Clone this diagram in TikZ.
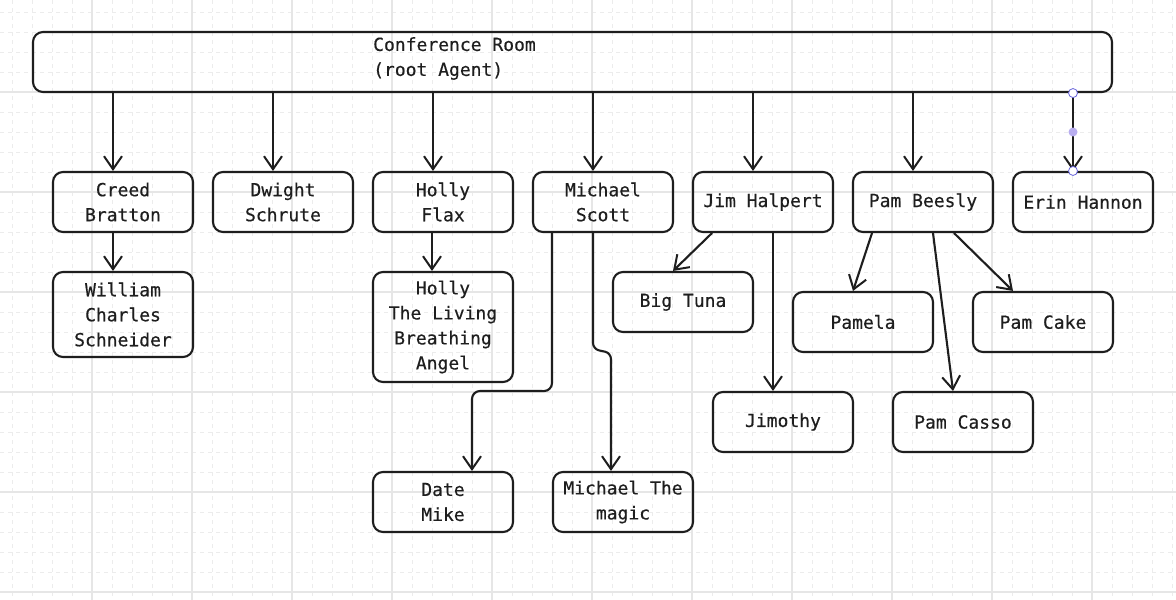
\documentclass[tikz,border=0pt]{standalone}
\usepackage{fontspec}
\newfontfamily\handfont[FakeBold=0.4]{DejaVu Sans Mono}
\usetikzlibrary{arrows.meta,calc}
\definecolor{ink}{HTML}{1E1E1E}
\definecolor{gridmajor}{HTML}{E6E6E6}
\definecolor{gridminor}{HTML}{ECECEC}
\definecolor{selstroke}{HTML}{6965DB}
\definecolor{seldot}{HTML}{B9AEF0}
\tikzset{
  box/.style={draw=ink, line width=2.1pt, rounded corners=10pt, minimum width=140pt,
    minimum height=60pt, inner sep=0pt, align=center, text=ink,
    font=\handfont\fontsize{18}{25}\selectfont},
  txt/.style={inner sep=0pt, align=left, text=ink, font=\handfont\fontsize{18}{25}\selectfont},
  link/.style={draw=ink, line width=2.1pt, line cap=round, line join=round,
    -{Straight Barb[length=13pt,width=18pt,line width=2pt]}},
  handle/.style={circle, draw=selstroke, fill=white, line width=0.8pt, minimum size=9pt, inner sep=0pt},
  handledot/.style={circle, fill=seldot, minimum size=9pt, inner sep=0pt}
}
\begin{document}
\begin{tikzpicture}[x=1pt,y=-1pt]
\useasboundingbox (0,0) rectangle (1176,600);
\fill[white] (0,0) rectangle (1176,600);
% grid
\foreach \v in {12,32,...,1172} {
  \draw[gridminor, line width=0.8pt, dash pattern=on 4pt off 4pt] (\v,0) -- (\v,600);
}
\foreach \v in {12,32,...,592} {
  \draw[gridminor, line width=0.8pt, dash pattern=on 4pt off 4pt] (0,\v) -- (1176,\v);
}
\foreach \v in {92,192,...,1092} {
  \draw[gridmajor, line width=1.1pt] (\v,0) -- (\v,600);
}
\foreach \v in {92,192,...,592} {
  \draw[gridmajor, line width=1.1pt] (0,\v) -- (1176,\v);
}

% root
\node[box, minimum width=1079pt, minimum height=60pt] (root) at (572.5,62) {};
\node[txt, anchor=west] (roottext) at (373,58.5) {Conference Room\\(root Agent)};

% children
\node[box] (creed) at (123,202) {Creed\\Bratton};
\node[box, minimum height=85pt] (william) at (123,314.5) {William\\Charles\\Schneider};
\node[box] (dwight) at (283,202) {Dwight\\Schrute};
\node[box] (hollyf) at (443,202) {Holly\\Flax};
\node[box, minimum height=110pt] (hollya) at (443,327) {Holly\\The Living\\Breathing\\Angel};
\node[box] (michael) at (603,202) {Michael\\Scott};
\node[box] (date) at (443,502) {Date\\Mike};
\node[box] (magic) at (623,502) {Michael The\\magic};
\node[box] (jim) at (763,202) {Jim Halpert};
\node[box] (tuna) at (683,302) {Big Tuna};
\node[box] (jimothy) at (783,422) {Jimothy};
\node[box] (pam) at (923,202) {Pam Beesly};
\node[box] (pamela) at (863,322) {Pamela};
\node[box] (cake) at (1043,322) {Pam Cake};
\node[box] (casso) at (963,422) {Pam Casso};
\node[box] (erin) at (1083,202) {Erin Hannon};

% root arrows
\foreach \c in {creed,dwight,hollyf,michael,jim,pam,erin} {
  \draw[link] ([xshift=-10pt]\c.north |- root.south) -- ([xshift=-10pt]\c.north);
}
% second level
\draw[link] ([xshift=-10pt]creed.south) -- ([xshift=-10pt]william.north);
\draw[link] ([xshift=-11pt]hollyf.south) -- ([xshift=-11pt]hollya.north);
\draw[link, rounded corners=8pt] ([xshift=-51pt]michael.south) -- ([xshift=-51pt,yshift=-158pt]michael.south)
  -- ([xshift=29pt]date.north |- 0,391) -- ([xshift=29pt]date.north);
\draw[link, rounded corners=6pt] ([xshift=-10pt]michael.south) -- ([xshift=-10pt,yshift=-116pt]michael.south)
  -- ([xshift=-12pt]magic.north |- 0,353) -- ([xshift=-12pt]magic.north);
\draw[link] ([xshift=-51pt]jim.south) -- ([xshift=-10pt]tuna.north);
\draw[link] ([xshift=10pt]jim.south) -- ([xshift=-10pt]jimothy.north);
\draw[link] ([xshift=-51pt]pam.south) -- ([xshift=-10pt]pamela.north);
\draw[link] ([xshift=10pt]pam.south) -- ([xshift=-10pt]casso.north);
\draw[link] ([xshift=31pt]pam.south) -- ([xshift=-30pt]cake.north);

% selection handles on the Erin arrow
\node[handle] (h1) at ([xshift=-10pt]erin.north |- root.south) {};
\node[handle] (h2) at ([xshift=-10pt]erin.north) {};
\node[handledot] (h3) at ($(h1)!0.5!(h2)$) {};
\end{tikzpicture}
\end{document}
